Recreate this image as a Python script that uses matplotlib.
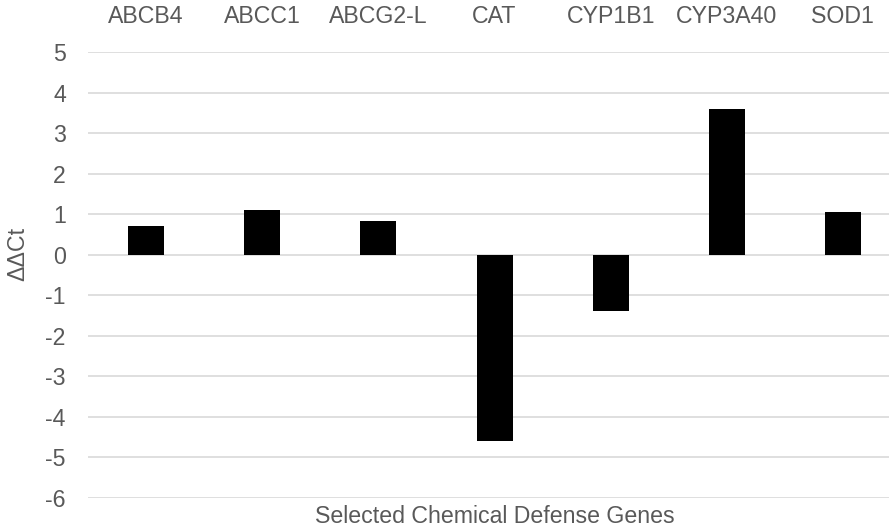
import matplotlib
matplotlib.use("Agg")
import matplotlib.pyplot as plt

# Datos
genes = ['ABCB4', 'ABCC1', 'ABCG2-L', 'CAT', 'CYP1B1', 'CYP3A40', 'SOD1']
ddct = [0.71, 1.10, 0.83, -4.60, -1.39, 3.60, 1.05]
yticks = list(range(-6, 6))

plt.rcParams['font.family'] = ['Liberation Sans', 'DejaVu Sans']
gris_texto = '#595959'

fig = plt.figure(figsize=(8.89, 5.28), dpi=100)
ax = fig.add_axes([0.099, 0.0568, 0.9145, 0.8447])

x = range(len(genes))
ax.bar(x, ddct, width=0.31, color='black', zorder=3)

ax.set_xlim(-0.5, 6.5)
ax.set_ylim(-6, 5)
ax.set_yticks(yticks)
ax.set_yticklabels([str(t) for t in yticks])
ax.set_xticks(list(x))
ax.set_xticklabels(genes)
ax.xaxis.tick_top()
ax.xaxis.set_label_position('bottom')

ax.tick_params(axis='x', length=0, pad=17, labelsize=16.7, labelcolor=gris_texto)
ax.tick_params(axis='y', length=0, pad=16, labelsize=16.7, labelcolor=gris_texto)

ax.grid(axis='y', color='#d9d9d9', linewidth=1.2, zorder=0)
for s in ax.spines.values():
    s.set_visible(False)

ax.set_xlabel('Selected Chemical Defense Genes', fontsize=16.7, color=gris_texto, labelpad=5)
fig.text(0.02, 0.52, 'ΔΔCt', rotation=90, fontsize=16.7, color=gris_texto,
         ha='center', va='center')

fig.savefig('out.png', dpi=100)
